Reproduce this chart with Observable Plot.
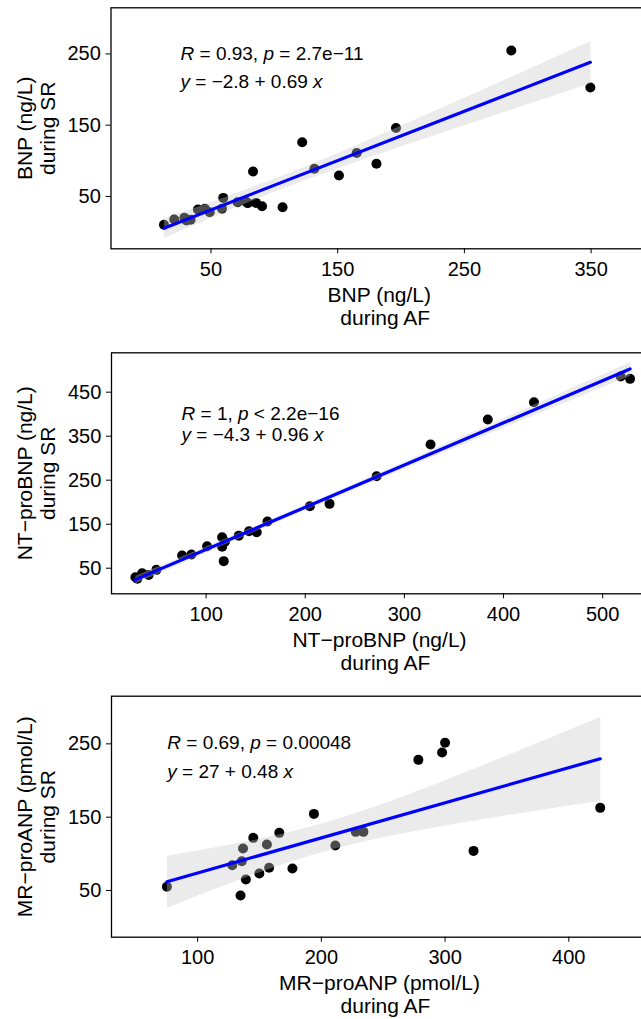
<!DOCTYPE html>
<html><head><meta charset="utf-8">
<script src="https://cdn.jsdelivr.net/npm/d3@7"></script>
<script src="https://cdn.jsdelivr.net/npm/@observablehq/plot@0.6"></script>
<style>
html,body{margin:0;padding:0;background:#fff;overflow:hidden;width:641px;height:1019px}
#chart svg{display:block;max-width:none}
</style></head><body><div id="chart"></div>
<script>
// ---- Panel 1: BNP (ng/L) ----
const bnpAF = [12.9, 21, 29, 30.6, 33.9, 39.7, 45.2, 49, 59.7, 58.7, 71, 77.4, 79, 83.2, 85.5, 90.3, 106.5, 122, 131.6, 151, 165, 180.6, 196, 287, 349.4];
const bnpSR = [10.3, 17.8, 20, 16.4, 17.3, 31.8, 32.7, 28, 48, 32.7, 42, 43, 40.7, 85, 41, 36.4, 35, 126, 88.8, 79.4, 111, 95.8, 146, 254.7, 202.8];
const bnpXTicks = [50, 150, 250, 350];
const bnpYTicks = [50, 150, 250];
const bnpStats = ["R = 0.93, p = 2.7e−11", "y = −2.8 + 0.69 x"];
const bnpXLabel = ["BNP (ng/L)", "during AF"];
const bnpYLabel = "BNP (ng/L)\nduring SR";

// ---- Panel 2: NT-proBNP (ng/L) ----
const ntAF = [28.7, 30.7, 35.5, 42.1, 49.9, 75.8, 85.2, 101, 116.2, 116.2, 117.8, 119, 133, 143.3, 151.1, 161.9, 204.7, 224.5, 272, 326.4, 384.1, 430.7, 518.1, 527.6];
const ntSR = [29.5, 26, 38.6, 34.8, 46.2, 78.8, 81, 100, 120.5, 99, 66, 110, 124, 134, 131.8, 156, 190.9, 196.2, 259, 331, 388, 427, 485.6, 480.3];
const ntXTicks = [100, 200, 300, 400, 500];
const ntYTicks = [50, 150, 250, 350, 450];
const ntStats = ["R = 1, p < 2.2e−16", "y = −4.3 + 0.96 x"];
const ntXLabel = ["NT−proBNP (ng/L)", "during AF"];
const ntYLabel = "NT−proBNP (ng/L)\nduring SR";

// ---- Panel 3: MR-proANP (pmol/L) ----
const mrAF = [75.2, 134.7, 139, 128, 135.7, 136.7, 145, 149.9, 156, 157.8, 166, 176.6, 194, 211.3, 227.8, 234, 278.4, 297.6, 300, 323, 425.4];
const mrSR = [55, 43.2, 65, 84.5, 90, 107.3, 121.8, 73.2, 112.7, 81, 128.6, 80, 154.5, 111.4, 130, 130, 228.2, 238.2, 251.4, 104, 162.7];
const mrXTicks = [100, 200, 300, 400];
const mrYTicks = [50, 150, 250];
const mrStats = ["R = 0.69, p = 0.00048", "y = 27 + 0.48 x"];
const mrXLabel = ["MR−proANP (pmol/L)", "during AF"];
const mrYLabel = "MR−proANP (pmol/L)\nduring SR";

const FONT = "'Liberation Sans', Arial, Helvetica, sans-serif";

function panel(c) {
  const data = c.xs.map((x, i) => ({x, y: c.ys[i]}));
  const svg = Plot.plot({
    width: 647, height: c.height,
    marginLeft: c.ml, marginRight: 0, marginTop: c.mt, marginBottom: c.mb,
    style: {fontFamily: FONT, color: "#000", background: "#fff", maxWidth: "none"},
    x: {domain: c.xd, label: null},
    y: {domain: c.yd, label: null},
    marks: [
      Plot.axisX({ticks: c.xt, tickSize: 5, tickPadding: 7.5, fontSize: 20, label: null, tickFormat: d => String(d)}),
      Plot.axisY({ticks: c.yt, tickSize: 5, tickPadding: 5.2, fontSize: 20, label: null, tickFormat: d => String(d)}),
      Plot.dot(data, {x: "x", y: "y", r: 5, fill: "#000", stroke: "none"}),
      Plot.linearRegressionY(data, {x: "x", y: "y", stroke: "#0000ff", strokeWidth: 3.2, fill: "#c9c9c9", fillOpacity: 0.37}),
      Plot.frame({stroke: "#000", strokeWidth: 1.3}),
      Plot.text([c.stats[0]], {text: d => d, frameAnchor: "top-left", textAnchor: "start", lineAnchor: "bottom", dx: c.adx, dy: c.ady[0], fontSize: 19, fill: "#000", className: "ann"}),
      Plot.text([c.stats[1]], {text: d => d, frameAnchor: "top-left", textAnchor: "start", lineAnchor: "bottom", dx: c.adx, dy: c.ady[1], fontSize: 19, fill: "#000", className: "ann"}),
      Plot.text([c.xl[0]], {text: d => d, frameAnchor: "bottom", textAnchor: "middle", lineAnchor: "bottom", dy: 52.7, fontSize: 21, fill: "#000"}),
      Plot.text([c.xl[1]], {text: d => d, frameAnchor: "bottom", textAnchor: "middle", lineAnchor: "bottom", dx: 6, dy: 75.7, fontSize: 21, fill: "#000"}),
      Plot.text([c.yl], {text: d => d, frameAnchor: "left", textAnchor: "middle", lineAnchor: "middle", rotate: -90, dx: 36.1 - c.ml, lineHeight: 1.095, fontSize: 21, fill: "#000"})
    ]
  });
  svg.style.maxWidth = "none";
  // italicise the single-letter symbols R, p, y, x in the statistics labels
  d3.select(svg).selectAll(".ann text").each(function () {
    const s = this.textContent;
    const el = d3.select(this);
    el.text(null);
    s.split(/(\b[Rpyx]\b)/).forEach(part => {
      if (!part) return;
      const t = el.append("tspan").text(part);
      if (/^[Rpyx]$/.test(part)) t.attr("font-style", "italic");
    });
  });
  return svg;
}

const root = document.getElementById("chart");
root.append(panel({
  xs: bnpAF, ys: bnpSR, xt: bnpXTicks, yt: bnpYTicks, stats: bnpStats, xl: bnpXLabel, yl: bnpYLabel,
  height: 340, ml: 110.5, mt: 7.3, mb: 91.7,
  xd: [-28.9, 394.5], yd: [-23.4, 314.7],
  adx: 69.5, ady: [52.2, 80]
}));
root.append(panel({
  xs: ntAF, ys: ntSR, xt: ntXTicks, yt: ntYTicks, stats: ntStats, xl: ntXLabel, yl: ntYLabel,
  height: 339, ml: 111, mt: 12.3, mb: 85.7,
  xd: [4.6, 545.2], yd: [-8.2, 539.5],
  adx: 70, ady: [66.7, 87.7]
}));
root.append(panel({
  xs: mrAF, ys: mrSR, xt: mrXTicks, yt: mrYTicks, stats: mrStats, xl: mrXLabel, yl: mrYLabel,
  height: 340, ml: 111, mt: 16.7, mb: 82.3,
  xd: [30.4, 463.6], yd: [-13.7, 315],
  adx: 55.8, ady: [52.8, 81.8]
}));
</script></body></html>
